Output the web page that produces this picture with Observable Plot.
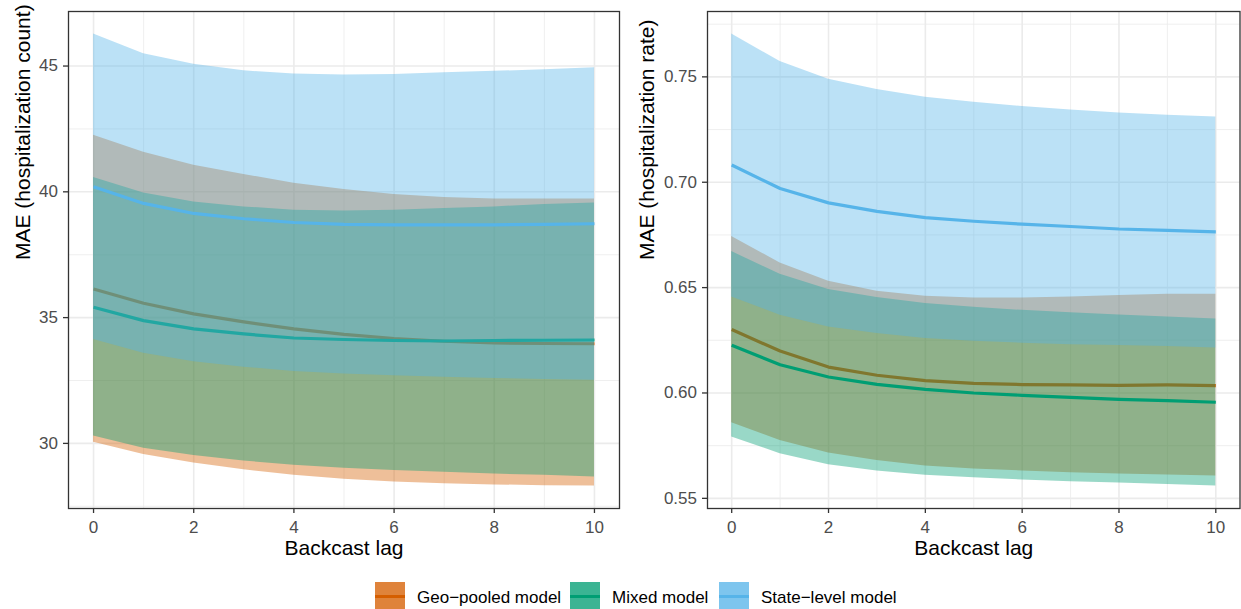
<!DOCTYPE html>
<html>
<head>
<meta charset="utf-8">
<script src="https://cdn.jsdelivr.net/npm/d3@7"></script>
<script src="https://cdn.jsdelivr.net/npm/@observablehq/plot@0.6"></script>
<style>
  html, body { margin: 0; padding: 0; background: #fff; }
  #wrap { position: relative; width: 1241px; height: 609px; overflow: hidden; font-family: "Liberation Sans", Arial, sans-serif; }
  #left { position: absolute; left: 0; top: 0; }
  #right { position: absolute; left: 621px; top: 0; }
  #legend { position: absolute; left: 375px; top: 582px; display: flex; align-items: center; font-size: 17px; color: #000; }
  .item { display: flex; align-items: center; }
  .key { width: 30px; height: 29px; position: relative; margin-right: 12px; }
  .key .bar { position: absolute; left: 0; right: 0; top: 13px; height: 3px; }
  .item span { position: relative; top: 1px; }
</style>
</head>
<body>
<div id="wrap">
  <div id="left"></div>
  <div id="right"></div>
  <div id="legend"></div>
</div>
<script>
// ---------- data ----------
const lags = [0, 1, 2, 3, 4, 5, 6, 7, 8, 9, 10];
const models = ["Geo\u2212pooled model", "Mixed model", "State\u2212level model"];
const modelColors = ["#D55E00", "#009E73", "#56B4E9"];

// Left panel: MAE (hospitalization count)
const countGeoLo  = [30.05, 29.56, 29.22, 28.95, 28.73, 28.57, 28.47, 28.40, 28.35, 28.32, 28.31];
const countGeoMid = [36.14, 35.57, 35.15, 34.83, 34.55, 34.33, 34.17, 34.06, 33.99, 33.97, 33.96];
const countGeoHi  = [42.25, 41.57, 41.06, 40.69, 40.34, 40.09, 39.89, 39.77, 39.71, 39.71, 39.71];
const countMixLo  = [30.29, 29.81, 29.52, 29.30, 29.13, 29.01, 28.92, 28.85, 28.78, 28.73, 28.66];
const countMixMid = [35.41, 34.88, 34.55, 34.35, 34.19, 34.13, 34.09, 34.07, 34.09, 34.10, 34.11];
const countMixHi  = [40.57, 39.95, 39.60, 39.40, 39.27, 39.24, 39.27, 39.34, 39.40, 39.50, 39.56];
const countStLo   = [34.13, 33.58, 33.25, 33.03, 32.86, 32.76, 32.69, 32.63, 32.58, 32.54, 32.51];
const countStMid  = [40.20, 39.54, 39.14, 38.93, 38.78, 38.71, 38.69, 38.69, 38.69, 38.71, 38.73];
const countStHi   = [46.27, 45.49, 45.07, 44.81, 44.68, 44.64, 44.66, 44.73, 44.79, 44.85, 44.93];

// Right panel: MAE (hospitalization rate)
const rateGeoLo  = [0.5859, 0.5775, 0.5715, 0.5679, 0.5653, 0.5639, 0.5630, 0.5622, 0.5616, 0.5611, 0.5606];
const rateGeoMid = [0.6301, 0.6199, 0.6123, 0.6084, 0.6059, 0.6046, 0.6040, 0.6038, 0.6036, 0.6038, 0.6035];
const rateGeoHi  = [0.6743, 0.6617, 0.6530, 0.6483, 0.6459, 0.6451, 0.6451, 0.6456, 0.6462, 0.6468, 0.6468];
const rateMixLo  = [0.5791, 0.5712, 0.5660, 0.5630, 0.5609, 0.5598, 0.5587, 0.5579, 0.5573, 0.5566, 0.5559];
const rateMixMid = [0.6226, 0.6134, 0.6076, 0.6041, 0.6017, 0.6000, 0.5989, 0.5979, 0.5970, 0.5964, 0.5956];
const rateMixHi  = [0.6671, 0.6563, 0.6491, 0.6453, 0.6424, 0.6407, 0.6392, 0.6381, 0.6370, 0.6361, 0.6351];
const rateStLo   = [0.6456, 0.6369, 0.6313, 0.6282, 0.6259, 0.6245, 0.6236, 0.6229, 0.6225, 0.6220, 0.6214];
const rateStMid  = [0.7082, 0.6970, 0.6902, 0.6862, 0.6832, 0.6815, 0.6801, 0.6790, 0.6778, 0.6772, 0.6764];
const rateStHi   = [0.7703, 0.7573, 0.7489, 0.7440, 0.7403, 0.7380, 0.7359, 0.7343, 0.7329, 0.7318, 0.7309];

const xTicks = [0, 2, 4, 6, 8, 10];
const xMinor = [1, 3, 5, 7, 9];
const countTicks = [30, 35, 40, 45];
const countMinor = [27.5, 32.5, 37.5, 42.5];
const rateTicks = [0.55, 0.60, 0.65, 0.70, 0.75];
const rateMinor = [0.575, 0.625, 0.675, 0.725, 0.775];

const xTitle = "Backcast lag";
const countTitle = "MAE (hospitalization count)";
const rateTitle = "MAE (hospitalization rate)";

// ---------- build ----------
const FONT = "'Liberation Sans', Arial, sans-serif";

function rows(lo, mid, hi) {
  return lags.map((lag, i) => ({lag, lo: lo[i], mid: mid[i], hi: hi[i]}));
}

function expand(arrs) {
  const all = arrs.flat();
  const [a, b] = d3.extent(all);
  const pad = (b - a) * 0.05;
  return [a - pad, b + pad];
}

function panel({series, yTicks, yMinor, yTitle, fmt, width, marginLeft, marginRight, titleDx}) {
  const yDomain = expand(series.flatMap(s => [s.lo, s.hi]));
  const marks = [
    Plot.ruleX(xMinor, {stroke: "#EBEBEB", strokeWidth: 0.8}),
    Plot.ruleY(yMinor, {stroke: "#EBEBEB", strokeWidth: 0.8}),
    Plot.ruleX(xTicks, {stroke: "#EBEBEB", strokeWidth: 1.6}),
    Plot.ruleY(yTicks, {stroke: "#EBEBEB", strokeWidth: 1.6})
  ];
  series.forEach((s, k) => {
    const data = rows(s.lo, s.mid, s.hi);
    marks.push(Plot.areaY(data, {x: "lag", y1: "lo", y2: "hi", fill: modelColors[k], fillOpacity: 0.4}));
    marks.push(Plot.line(data, {x: "lag", y: "mid", stroke: modelColors[k], strokeWidth: 3.2, strokeLinecap: "butt", strokeLinejoin: "round"}));
  });
  marks.push(
    Plot.frame({stroke: "#333333", strokeWidth: 1.3}),
    Plot.axisX({ticks: xTicks, tickSize: 5, tickPadding: 7, fontSize: 17, stroke: "#333333", strokeWidth: 1.3, fill: "#4D4D4D", label: null}),
    Plot.axisY({ticks: yTicks, tickSize: 5, tickPadding: 5.5, fontSize: 17, stroke: "#333333", strokeWidth: 1.3, fill: "#4D4D4D", label: null, tickFormat: fmt}),
    Plot.text([xTitle], {text: d => d, frameAnchor: "bottom", dy: 46, fontSize: 21, fill: "#000"}),
    Plot.text([yTitle], {text: d => d, frameAnchor: "left", dx: titleDx, rotate: -90, fontSize: 21, fill: "#000"})
  );
  return Plot.plot({
    width, height: 570,
    marginLeft, marginRight, marginTop: 11, marginBottom: 62,
    style: {fontFamily: FONT, background: "transparent", overflow: "visible"},
    x: {domain: [-0.5, 10.5]},
    y: {domain: yDomain},
    marks
  });
}

document.getElementById("left").appendChild(panel({
  series: [
    {lo: countGeoLo, mid: countGeoMid, hi: countGeoHi},
    {lo: countMixLo, mid: countMixMid, hi: countMixHi},
    {lo: countStLo, mid: countStMid, hi: countStHi}
  ],
  yTicks: countTicks, yMinor: countMinor, yTitle: countTitle, fmt: d3.format("d"),
  width: 621, marginLeft: 68, marginRight: 2, titleDx: -45.5
}));

document.getElementById("right").appendChild(panel({
  series: [
    {lo: rateGeoLo, mid: rateGeoMid, hi: rateGeoHi},
    {lo: rateMixLo, mid: rateMixMid, hi: rateMixHi},
    {lo: rateStLo, mid: rateStMid, hi: rateStHi}
  ],
  yTicks: rateTicks, yMinor: rateMinor, yTitle: rateTitle, fmt: d3.format(".2f"),
  width: 620, marginLeft: 86, marginRight: 1.5, titleDx: -60
}));

// ---------- legend ----------
const legend = document.getElementById("legend");
const itemWidths = [195, 149, null];
models.forEach((m, k) => {
  const item = document.createElement("div");
  item.className = "item";
  if (itemWidths[k]) item.style.width = itemWidths[k] + "px";
  const key = document.createElement("div");
  key.className = "key";
  const c = d3.color(modelColors[k]); c.opacity = 0.77;
  key.style.background = c.formatRgb();
  const bar = document.createElement("div");
  bar.className = "bar";
  bar.style.background = modelColors[k];
  key.appendChild(bar);
  const label = document.createElement("span");
  label.textContent = m;
  item.appendChild(key);
  item.appendChild(label);
  legend.appendChild(item);
});
</script>
</body>
</html>
